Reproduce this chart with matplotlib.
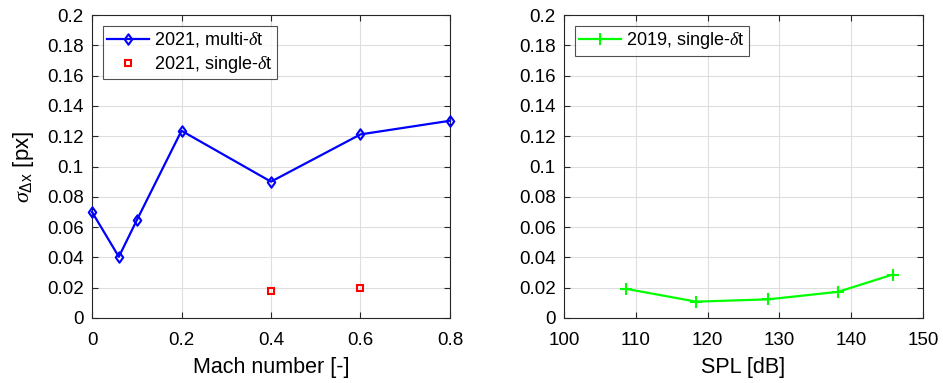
import matplotlib
matplotlib.use("Agg")
import matplotlib.pyplot as plt
from matplotlib.path import Path

plt.rcParams['font.family'] = ['Liberation Sans', 'DejaVu Sans']
plt.rcParams['mathtext.fontset'] = 'custom'
plt.rcParams['mathtext.rm'] = 'Liberation Sans'
plt.rcParams['mathtext.it'] = 'Liberation Serif:italic'

# Multi-delta-t results (2021) versus Mach number
mach_multi = [0.0, 0.06, 0.1, 0.2, 0.4, 0.6, 0.8]
sigma_multi = [0.070, 0.0404, 0.0645, 0.1236, 0.0900, 0.1212, 0.1302]

# Single-delta-t results (2021)
mach_single = [0.4, 0.6]
sigma_single = [0.0178, 0.0195]

# Single-delta-t results (2019) versus sound pressure level
spl_2019 = [108.7, 118.4, 128.4, 138.2, 145.8]
sigma_2019 = [0.0192, 0.0108, 0.0123, 0.0173, 0.0287]

left_xticks = [0, 0.2, 0.4, 0.6, 0.8]
right_xticks = [100, 110, 120, 130, 140, 150]
yticks = [0, 0.02, 0.04, 0.06, 0.08, 0.1, 0.12, 0.14, 0.16, 0.18, 0.2]
ytick_labels = ['0', '0.02', '0.04', '0.06', '0.08', '0.1', '0.12', '0.14', '0.16', '0.18', '0.2']

axis_grey = (0.15, 0.15, 0.15)

# slightly tall diamond, like the MATLAB 'd' marker
diamond = Path([(0, 1), (0.72, 0), (0, -1), (-0.72, 0), (0, 1)],
               [Path.MOVETO, Path.LINETO, Path.LINETO, Path.LINETO, Path.CLOSEPOLY])

fig = plt.figure(figsize=(9.43, 3.83), dpi=100)
ax1 = fig.add_axes([92 / 943, 1 - 318 / 383, 358 / 943, 303 / 383])
ax2 = fig.add_axes([564 / 943, 1 - 318 / 383, 359 / 943, 303 / 383])


def style(ax):
    ax.set_ylim(0, 0.2)
    ax.set_yticks(yticks)
    ax.set_yticklabels(ytick_labels)
    ax.grid(True, color=(0.87, 0.87, 0.87), linewidth=0.8)
    ax.set_axisbelow(True)
    for s in ax.spines.values():
        s.set_color(axis_grey)
        s.set_linewidth(0.8)
    ax.tick_params(direction='in', length=4, width=0.8, colors=axis_grey,
                   labelsize=13.5, labelcolor='black', top=True, right=True)
    ax.tick_params(axis='x', pad=10)
    ax.tick_params(axis='y', pad=6)


ax1.plot(mach_multi, sigma_multi, color='#0000ff', linewidth=1.6, marker=diamond,
         markersize=7.5, markerfacecolor='none', markeredgewidth=1.5,
         label=r'2021, multi-$\delta$t', clip_on=False, zorder=3)
ax1.plot(mach_single, sigma_single, linestyle='none', color='#ff0000', marker='s',
         markersize=4.5, markerfacecolor='none', markeredgewidth=1.5,
         label=r'2021, single-$\delta$t', clip_on=False, zorder=3)
ax1.set_xlim(0, 0.8)
ax1.set_xticks(left_xticks)
ax1.set_xticklabels(['0', '0.2', '0.4', '0.6', '0.8'])
style(ax1)
ax1.set_xlabel('Mach number [-]', fontsize=15.5, labelpad=6)
ax1.set_ylabel(r'$\sigma_{\Delta \mathrm{x}}$ [px]', fontsize=16, labelpad=8)
leg1 = ax1.legend(loc='upper left', fontsize=13, frameon=True, fancybox=False,
                  edgecolor=axis_grey, handlelength=2.3, borderaxespad=0.6,
                  handletextpad=0.3, labelspacing=0.25, borderpad=0.25)
leg1.get_frame().set_linewidth(0.8)

ax2.plot(spl_2019, sigma_2019, color='#00ff00', linewidth=1.6, marker='+',
         markersize=9, markeredgewidth=1.5, label=r'2019, single-$\delta$t',
         zorder=3)
ax2.set_xlim(100, 150)
ax2.set_xticks(right_xticks)
style(ax2)
ax2.set_xlabel('SPL [dB]', fontsize=15.5, labelpad=6)
leg2 = ax2.legend(loc='upper left', fontsize=13, frameon=True, fancybox=False,
                  edgecolor=axis_grey, handlelength=2.3, borderaxespad=0.6,
                  handletextpad=0.3, borderpad=0.25)
leg2.get_frame().set_linewidth(0.8)

fig.savefig('out.png', dpi=100)
